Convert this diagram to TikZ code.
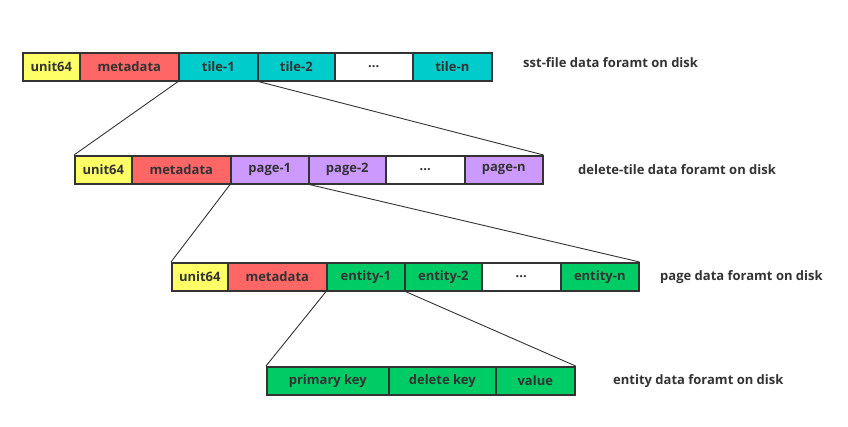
\documentclass[tikz,border=0pt]{standalone}
\usepackage{fontspec}
\setmainfont{Open Sans}
\definecolor{cyel}{HTML}{FFFF66}
\definecolor{cred}{HTML}{FF6666}
\definecolor{ccya}{HTML}{00CCCC}
\definecolor{cpur}{HTML}{CC99FF}
\definecolor{cgrn}{HTML}{00CC66}
\definecolor{ctxt}{HTML}{333333}
\begin{document}
\begin{tikzpicture}[x=1pt,y=-1pt,
  cell/.style={draw=ctxt,line width=1.6pt,minimum height=28pt,inner sep=0pt,
    font=\bfseries\fontsize{13}{15}\selectfont,text=ctxt,anchor=north west},
  lbl/.style={font=\bfseries\fontsize{13}{15}\selectfont,text=ctxt,anchor=west,inner sep=0pt},
  conn/.style={draw=ctxt,line width=0.9pt}]
\useasboundingbox (0,0) rectangle (848,427);
% row 1
\node[cell,fill=cyel,minimum width=57pt] (a1) at (22,52) {unit64};
\node[cell,fill=cred,minimum width=99pt] (a2) at (79,52) {metadata};
\node[cell,fill=ccya,minimum width=79pt] (a3) at (178,52) {tile-1};
\node[cell,fill=ccya,minimum width=77pt] (a4) at (257,52) {tile-2};
\node[cell,fill=white,minimum width=78pt] (a5) at (334,52) {...};
\node[cell,fill=ccya,minimum width=79pt] (a6) at (412,52) {tile-n};
\node[lbl] (la) at (523,63) {sst-file data foramt on disk};
% row 2
\node[cell,fill=cyel,minimum width=57pt] (b1) at (74,155) {unit64};
\node[cell,fill=cred,minimum width=99pt] (b2) at (131,155) {metadata};
\node[cell,fill=cpur,minimum width=78pt] (b3) at (230,155) {page-1};
\node[cell,fill=cpur,minimum width=77pt] (b4) at (308,155) {page-2};
\node[cell,fill=white,minimum width=79pt] (b5) at (385,155) {...};
\node[cell,fill=cpur,minimum width=78pt] (b6) at (464,155) {page-n};
\node[lbl] (lb) at (578,170) {delete-tile data foramt on disk};
% row 3
\node[cell,fill=cyel,minimum width=56pt] (c1) at (171,262) {unit64};
\node[cell,fill=cred,minimum width=99pt] (c2) at (227,262) {metadata};
\node[cell,fill=cgrn,minimum width=78pt] (c3) at (326,262) {entity-1};
\node[cell,fill=cgrn,minimum width=77pt] (c4) at (404,262) {entity-2};
\node[cell,fill=white,minimum width=79pt] (c5) at (481,262) {...};
\node[cell,fill=cgrn,minimum width=78pt] (c6) at (560,262) {entity-n};
\node[lbl] (lc) at (660,277) {page data foramt on disk};
% row 4
\node[cell,fill=cgrn,minimum width=122pt] (d1) at (266,366) {primary key};
\node[cell,fill=cgrn,minimum width=107pt] (d2) at (388,366) {delete key};
\node[cell,fill=cgrn,minimum width=79pt] (d3) at (495,366) {value};
\node[lbl] (ld) at (613,381) {entity data foramt on disk};
% connectors
\draw[conn] (a3.south west) -- (b1.north west);
\draw[conn] (a3.south east) -- (b6.north east);
\draw[conn] (b3.south west) -- (c1.north west);
\draw[conn] (b3.south east) -- (c6.north east);
\draw[conn] (c3.south west) -- (d1.north west);
\draw[conn] (c3.south east) -- (d3.north east);
% redraw cell borders on top of connectors
\foreach \n in {a3,b3,c3}{\draw[draw=ctxt,line width=1.6pt] (\n.south west) -- (\n.south east);}
\end{tikzpicture}
\end{document}
